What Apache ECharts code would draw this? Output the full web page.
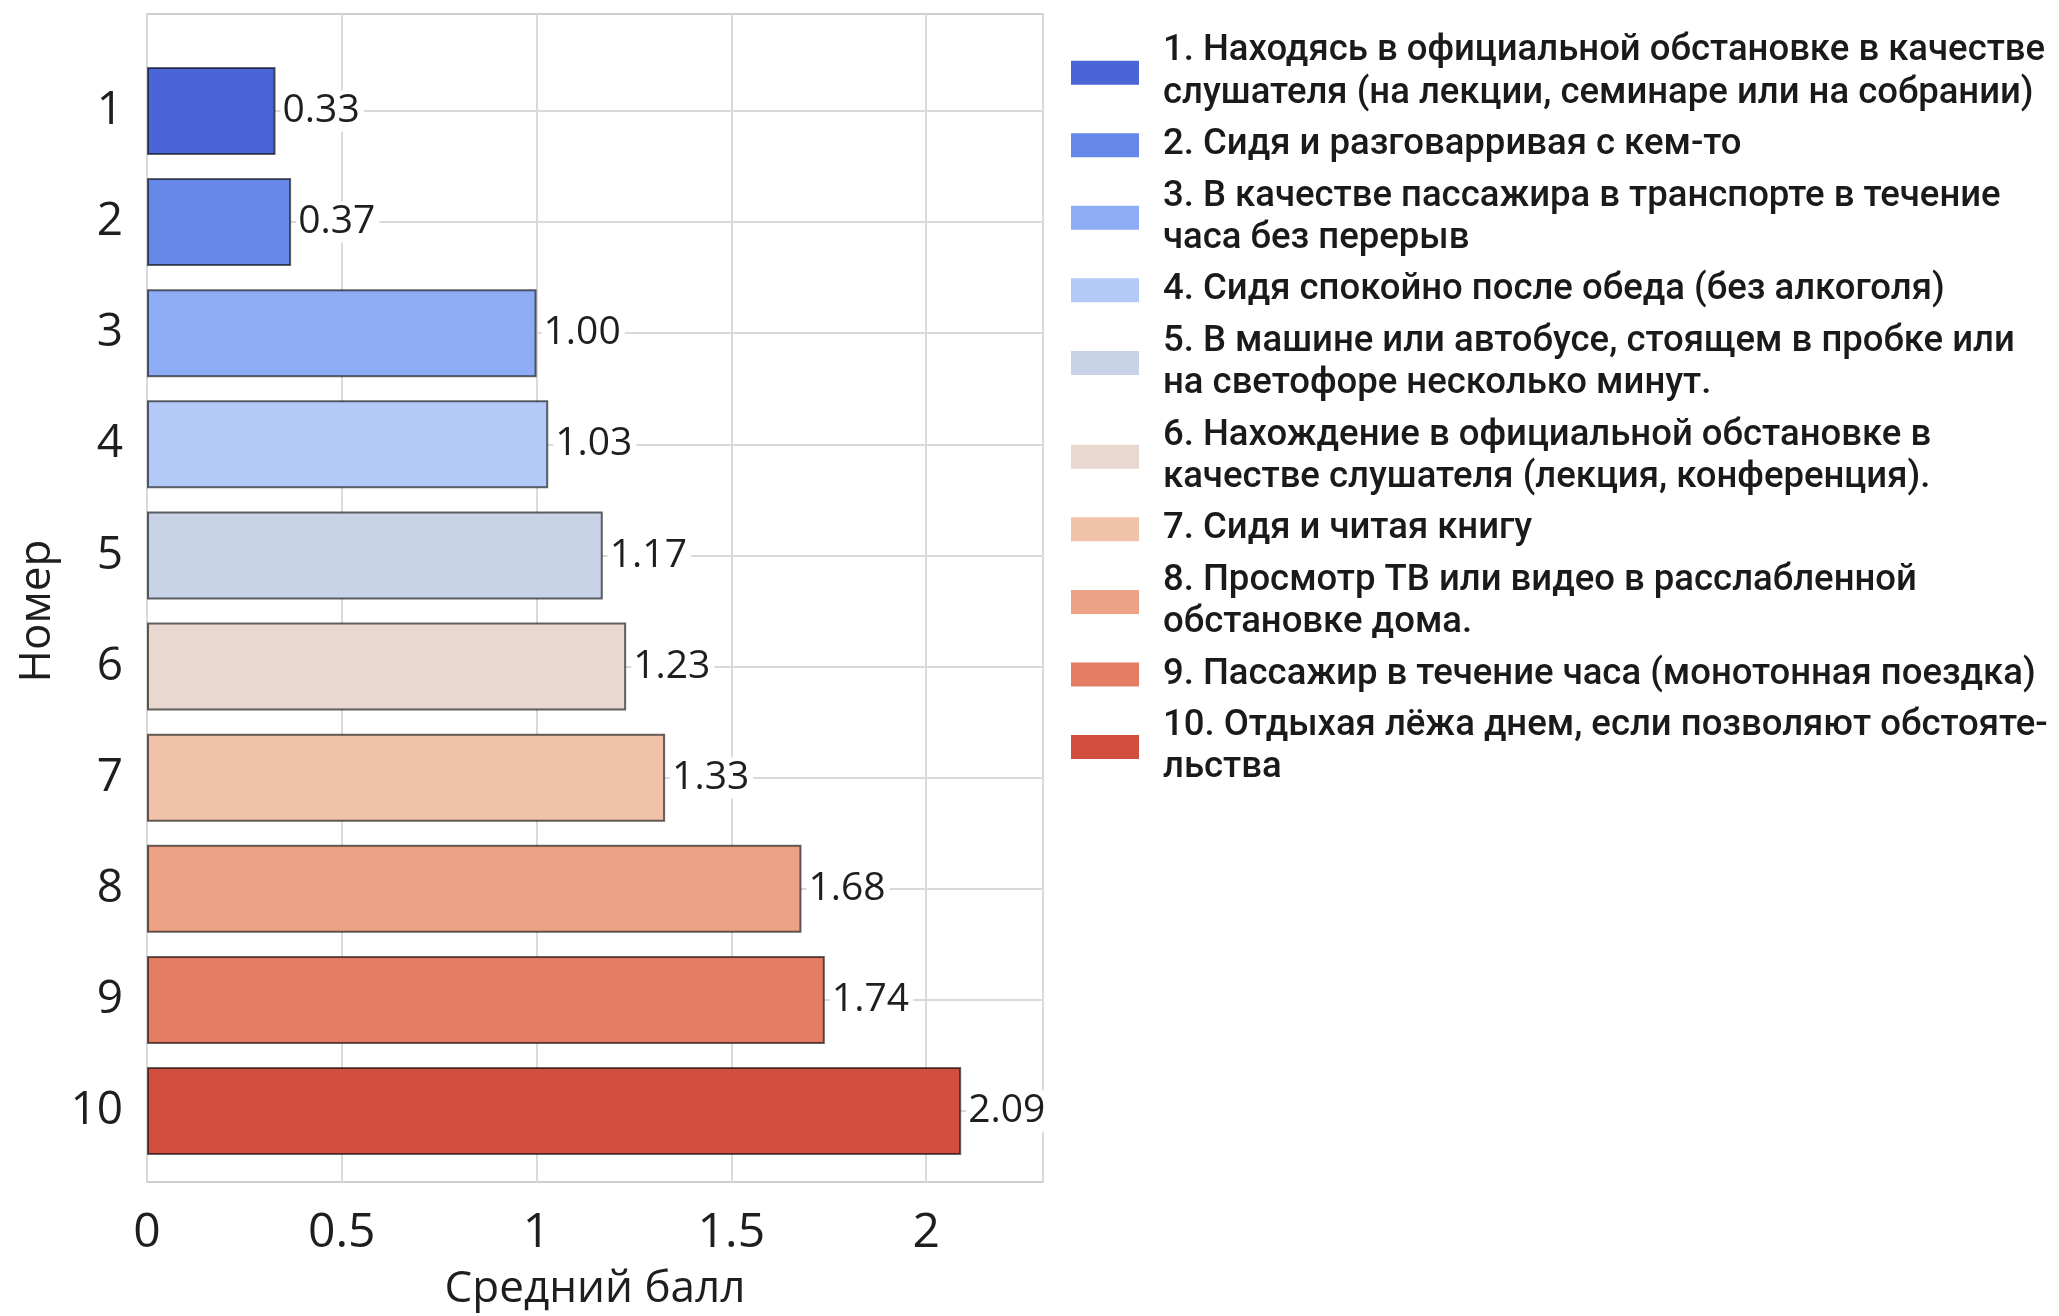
<!DOCTYPE html>
<html>
<head>
<meta charset="utf-8">
<script src="https://cdn.jsdelivr.net/npm/echarts@6/dist/echarts.min.js"></script>
<style>
  html, body { margin: 0; padding: 0; background: #ffffff; }
  #chart { width: 2059px; height: 1316px; }
</style>
</head>
<body>
<div id="chart"></div>
<script>
// Situation numbers shown on the vertical axis
const categories = ['1', '2', '3', '4', '5', '6', '7', '8', '9', '10'];

// Average score for each situation
const scores = [0.33, 0.37, 1.00, 1.03, 1.17, 1.23, 1.33, 1.68, 1.74, 2.09];

// Legend descriptions (line breaks as laid out in the legend)
const itemLabels = [
  '1. Находясь в официальной обстановке в качестве\nслушателя (на лекции, семинаре или на собрании)',
  '2. Сидя и разговарривая с кем-то',
  '3. В качестве пассажира в транспорте в течение\nчаса без перерыв',
  '4. Сидя спокойно после обеда (без алкоголя)',
  '5. В машине или автобусе, стоящем в пробке или\nна светофоре несколько минут.',
  '6. Нахождение в официальной обстановке в\nкачестве слушателя (лекция, конференция).',
  '7. Сидя и читая книгу',
  '8. Просмотр ТВ или видео в расслабленной\nобстановке дома.',
  '9. Пассажир в течение часа (монотонная поездка)',
  '10. Отдыхая лёжа днем, если позволяют обстояте-\nльства'
];

// Cool-to-warm palette, one colour per situation
const palette = [
  '#4a66d6', '#6688e8', '#8eabf5', '#b3c9f7', '#c9d3e7',
  '#e8d8cf', '#f1c2aa', '#eea285', '#e47c63', '#d24e3e'
];

const X_MAX = 2.3;
const LEFT = 147, RIGHT = 1016;

const series = scores.map((v, i) => ({
  name: itemLabels[i],
  type: 'bar',
  stack: 'score',
  xAxisIndex: 0,
  yAxisIndex: 0,
  barWidth: 88,
  clip: false,
  data: categories.map((c, j) => (j === i ? v : null)),
  itemStyle: {
    color: palette[i],
    borderColor: 'rgba(0,0,0,0.6)',
    borderWidth: 2
  },
  label: {
    show: true,
    position: 'right',
    distance: 5,
    formatter: p => Number(p.value).toFixed(2),
    fontFamily: 'Open Sans',
    fontSize: 39,
    color: '#1e1e1e',
    backgroundColor: '#ffffff',
    padding: [2, 4, 0, 2]
  },
  emphasis: { disabled: true }
}));

const chart = echarts.init(document.getElementById('chart'), null, { renderer: 'canvas' });
chart.setOption({
  animation: false,
  backgroundColor: '#ffffff',
  grid: [
    // bar area: first and last category centres sit on the grid edges
    { left: LEFT, right: RIGHT, top: 111, bottom: 205, containLabel: false },
    // outer frame with the value scale
    { left: LEFT, right: RIGHT, top: 14, bottom: 121, containLabel: false,
      show: true, borderColor: '#cfcfcf', borderWidth: 2, backgroundColor: 'transparent' }
  ],
  xAxis: [
    { type: 'value', gridIndex: 0, min: 0, max: X_MAX, show: false },
    {
      type: 'value', gridIndex: 1, min: 0, max: X_MAX, interval: 0.5,
      name: 'Средний балл', nameLocation: 'middle', nameGap: 85,
      nameTextStyle: { fontFamily: 'Open Sans', fontSize: 44, color: '#1e1e1e' },
      axisLine: { show: false },
      axisTick: { show: false },
      axisLabel: { fontFamily: 'Open Sans', fontSize: 48, color: '#1e1e1e', margin: 27, showMaxLabel: false },
      splitLine: { show: true, lineStyle: { color: '#dadada', width: 2 } }
    }
  ],
  yAxis: [
    {
      type: 'category', gridIndex: 0, data: categories, inverse: true, boundaryGap: false,
      name: 'Номер', nameLocation: 'middle', nameGap: 88, nameRotate: 90,
      nameTextStyle: { fontFamily: 'Open Sans', fontSize: 44, color: '#1e1e1e' },
      axisLine: { show: false },
      axisTick: { show: false },
      axisLabel: { fontFamily: 'Open Sans', fontSize: 46, color: '#1e1e1e', margin: 24 },
      splitLine: { show: true, lineStyle: { color: '#dadada', width: 2 } }
    },
    { type: 'value', gridIndex: 1, show: false, min: 0, max: 1 }
  ],
  legend: {
    orient: 'vertical',
    left: 1066,
    top: 25,
    itemGap: 8.5,
    itemWidth: 68,
    itemHeight: 24,
    icon: 'rect',
    itemStyle: { borderWidth: 0 },
    data: itemLabels,
    selectedMode: false,
    textStyle: {
      fontFamily: 'Roboto',
      fontSize: 36.5,
      fontWeight: 500,
      lineHeight: 42.7,
      color: '#1a1a1a',
      padding: [0, 0, 0, 19]
    }
  },
  series: series
});
</script>
</body>
</html>
